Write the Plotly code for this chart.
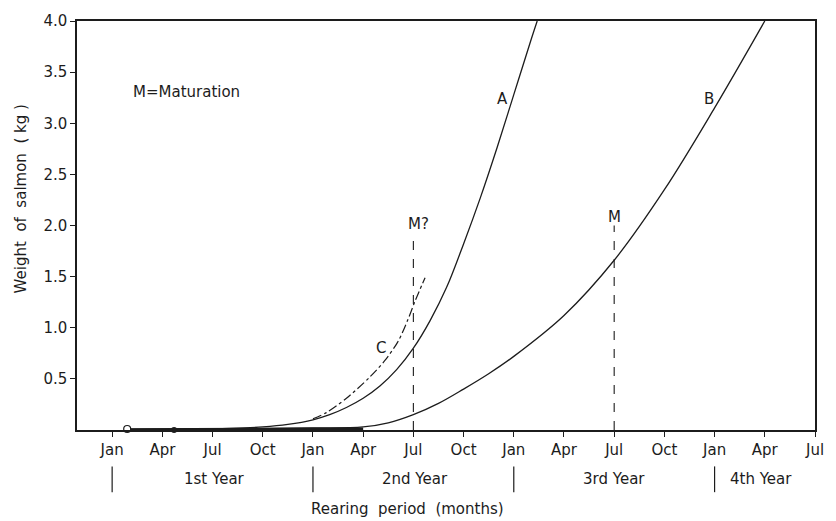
import plotly.graph_objects as go

# ---- data (x = months since January of the 1st year) ----
tick_months = [0, 3, 6, 9, 12, 15, 18, 21, 24, 27, 30, 33, 36, 39, 42]
tick_labels = ["Jan", "Apr", "Jul", "Oct", "Jan", "Apr", "Jul", "Oct",
               "Jan", "Apr", "Jul", "Oct", "Jan", "Apr", "Jul"]
y_ticks = [0.5, 1.0, 1.5, 2.0, 2.5, 3.0, 3.5, 4.0]
y_tick_labels = ["0.5", "1.0", "1.5", "2.0", "2.5", "3.0", "3.5", "4.0"]

a_months = [0.9, 4, 7, 9, 10.5, 12, 13, 14, 15, 16, 17, 18, 19, 20, 21, 22, 23, 24, 25, 25.4]
a_kg = [0.005, 0.008, 0.015, 0.03, 0.055, 0.10, 0.15, 0.22, 0.31, 0.43, 0.59, 0.80, 1.07, 1.40,
        1.82, 2.27, 2.76, 3.28, 3.80, 4.0]

b_months = [0.9, 6, 12, 15, 16.5, 18, 19.5, 21, 22.5, 24, 27, 30, 33, 36, 39]
b_kg = [0.005, 0.01, 0.02, 0.03, 0.07, 0.15, 0.26, 0.40, 0.55, 0.72, 1.12, 1.66, 2.35, 3.15, 4.0]

c_months = [12.0, 12.8, 14.0, 15.35, 16.3, 17.1, 17.65, 18.1, 18.7]
c_kg = [0.11, 0.17, 0.31, 0.51, 0.68, 0.87, 1.07, 1.26, 1.49]

juvenile_months = [0.9, 15]
juvenile_kg = [0.006, 0.012]

maturation_months = [18, 30]
maturation_kg = [1.93, 2.0]
maturation_labels = ["M?", "M"]

start_months = [0.9, 3.7]
start_kg = [0.01, 0.0]

year_labels = ["1st Year", "2nd Year", "3rd Year", "4th Year"]
year_centers = [6.1, 18.1, 30.0, 38.8]
year_bounds = [0, 12, 24, 36]

ink = "#1c1c1c"
font_family = "DejaVu Sans"
fs = 15

fig = go.Figure()

fig.add_trace(go.Scatter(x=juvenile_months, y=juvenile_kg, mode="lines",
                         line=dict(color=ink, width=2.4), hoverinfo="skip"))
fig.add_trace(go.Scatter(x=a_months, y=a_kg, mode="lines", name="A",
                         line=dict(color=ink, width=1.3, shape="spline", smoothing=1.0)))
fig.add_trace(go.Scatter(x=b_months, y=b_kg, mode="lines", name="B",
                         line=dict(color=ink, width=1.3, shape="spline", smoothing=1.0)))
fig.add_trace(go.Scatter(x=c_months, y=c_kg, mode="lines", name="C",
                         line=dict(color=ink, width=1.2, dash="dashdot", shape="spline", smoothing=0.8)))
for m, h in zip(maturation_months, maturation_kg):
    fig.add_trace(go.Scatter(x=[m, m], y=[0, h], mode="lines",
                             line=dict(color=ink, width=1.1, dash="dash"), hoverinfo="skip"))
fig.add_trace(go.Scatter(x=start_months[:1], y=start_kg[:1], mode="markers",
                         marker=dict(symbol="circle", size=7, color="white",
                                     line=dict(width=1.2, color=ink)),
                         cliponaxis=False))
fig.add_trace(go.Scatter(x=start_months[1:], y=start_kg[1:], mode="markers",
                         marker=dict(symbol="circle", size=6, color=ink),
                         cliponaxis=False))

annotations = []
annotations.append(dict(x=23.3, y=3.24, text="A", showarrow=False, xref="x", yref="y",
                        font=dict(size=fs)))
annotations.append(dict(x=35.65, y=3.24, text="B", showarrow=False, xref="x", yref="y",
                        font=dict(size=fs)))
annotations.append(dict(x=16.06, y=0.80, text="C", showarrow=False, xref="x", yref="y",
                        font=dict(size=fs)))
for m, h, t in zip(maturation_months, maturation_kg, maturation_labels):
    annotations.append(dict(x=m, y=h, text=t, showarrow=False, xref="x", yref="y",
                            xanchor="left" if t == "M?" else "center", xshift=-7 if t == "M?" else 0,
                            yanchor="bottom", yshift=-2, font=dict(size=fs)))
annotations.append(dict(x=1.1, y=3.31, text="M=Maturation", showarrow=False, xref="x", yref="y",
                        xanchor="left", yanchor="middle", font=dict(size=fs)))
for t, c in zip(year_labels, year_centers):
    annotations.append(dict(x=c, y=-0.12, text=t, showarrow=False, xref="x", yref="paper",
                            yanchor="middle", font=dict(size=fs)))
annotations.append(dict(x=0.448, y=-0.193, text="Rearing  period  (months)", showarrow=False,
                        xref="paper", yref="paper", xanchor="center", yanchor="middle",
                        font=dict(size=fs)))
annotations.append(dict(x=-0.076, y=0.566, text="Weight  of  salmon  ( kg )", showarrow=False,
                        xref="paper", yref="paper", xanchor="center", yanchor="middle",
                        textangle=-90, font=dict(size=fs)))

shapes = []
for b in year_bounds:
    shapes.append(dict(type="line", xref="x", yref="paper", x0=b, x1=b, y0=-0.089, y1=-0.152,
                       line=dict(color=ink, width=1.2)))

fig.update_layout(
    width=836, height=521,
    margin=dict(l=77, r=12, t=15, b=91),
    paper_bgcolor="white", plot_bgcolor="white",
    showlegend=False,
    font=dict(family=font_family, size=fs, color=ink),
    annotations=annotations,
    shapes=shapes,
    xaxis=dict(range=[-2.1, 42], tickvals=tick_months, ticktext=tick_labels,
               showgrid=False, zeroline=False, showline=True, linecolor=ink, linewidth=1.5,
               mirror=True, ticks="outside", ticklen=5, tickcolor=ink, tickwidth=1,
               tickfont=dict(size=fs)),
    yaxis=dict(range=[0, 4.0], tickvals=y_ticks, ticktext=y_tick_labels,
               showgrid=False, zeroline=False, showline=True, linecolor=ink, linewidth=1.5,
               mirror=True, ticks="outside", ticklen=5, tickcolor=ink, tickwidth=1,
               tickfont=dict(size=fs)),
)

fig.write_html("out.html")
